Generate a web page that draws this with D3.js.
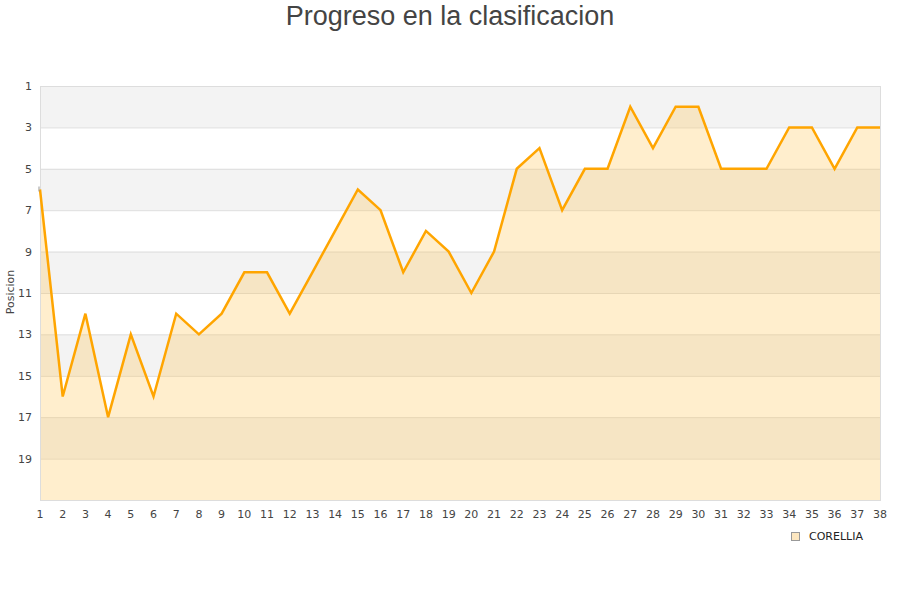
<!DOCTYPE html>
<html><head><meta charset="utf-8">
<script src="https://cdn.jsdelivr.net/npm/d3@7/dist/d3.min.js"></script>
<style>body{margin:0;background:#fff;}svg{display:block;font-family:"DejaVu Sans",sans-serif;}</style>
</head><body>
<script>
const jornadas = d3.range(1, 39);
const posiciones = [6,16,12,17,13,16,12,13,12,10,10,12,10,8,6,7,10,8,9,11,9,5,4,7,5,5,2,4,2,2,5,5,5,3,3,5,3,3];
const yTicks = [1,3,5,7,9,11,13,15,17,19];
const bandas = [[1,3],[5,7],[9,11],[13,15],[17,19]];
const equipo = "CORELLIA";
const titulo = "Progreso en la clasificacion";

const W = 900, H = 600;
const m = {l: 40, r: 20, t: 86, b: 100};
const svg = d3.select("body").append("svg").attr("width", W).attr("height", H);
const x = d3.scaleLinear().domain([1, 38]).range([m.l, W - m.r]);
const y = d3.scaleLinear().domain([1, 21]).range([m.t, H - m.b]);

svg.append("text").attr("x", 450).attr("y", 25).attr("text-anchor", "middle")
  .attr("font-family", "'Liberation Sans', Arial, sans-serif")
  .attr("font-size", 27).attr("fill", "#444").text(titulo);

svg.selectAll("rect.band").data(bandas).enter().append("rect")
  .attr("x", x(1)).attr("width", x(38) - x(1))
  .attr("y", d => y(d[0])).attr("height", d => y(d[1]) - y(d[0]))
  .attr("fill", "#f3f3f3");

svg.selectAll("line.grid").data(yTicks.concat([21])).enter().append("line")
  .attr("x1", x(1)).attr("x2", x(38)).attr("y1", d => y(d) + 0.5).attr("y2", d => y(d) + 0.5)
  .attr("stroke", "#dddddd");

const area = d3.area().x((d, i) => x(jornadas[i])).y0(y(21)).y1(d => y(d));
svg.append("path").datum(posiciones).attr("d", area)
  .attr("fill", "rgba(255,200,90,0.3)");

svg.append("rect").attr("x", x(1) + 0.5).attr("y", y(1) + 0.5)
  .attr("width", x(38) - x(1)).attr("height", y(21) - y(1))
  .attr("fill", "none").attr("stroke", "#dddddd");

const line = d3.line().x((d, i) => x(jornadas[i])).y(d => y(d));
svg.append("path").datum(posiciones).attr("d", line)
  .attr("fill", "none").attr("stroke", "#ffa500").attr("stroke-width", 2.5)
  .attr("stroke-linejoin", "miter");

svg.append("line").attr("x1", x(1) - 1).attr("x2", x(1) - 1)
  .attr("y1", y(posiciones[0]) - 3).attr("y2", y(posiciones[0]) + 2)
  .attr("stroke", "#999").attr("stroke-width", 1);

svg.selectAll("text.yt").data(yTicks).enter().append("text")
  .attr("x", 32).attr("y", d => y(d) + 4).attr("text-anchor", "end")
  .attr("font-size", 11).attr("fill", "#444").text(d => d);

svg.selectAll("text.xt").data(jornadas).enter().append("text")
  .attr("x", d => x(d)).attr("y", 518).attr("text-anchor", "middle")
  .attr("font-size", 11).attr("fill", "#444").text(d => d);

svg.append("text").attr("transform", "translate(14,292) rotate(-90)")
  .attr("text-anchor", "middle").attr("font-size", 11).attr("fill", "#444").text("Posicion");

svg.append("rect").attr("x", 791.5).attr("y", 532.5).attr("width", 8).attr("height", 8)
  .attr("fill", "#fde7c0").attr("stroke", "#999");
svg.append("text").attr("x", 809).attr("y", 540).attr("font-size", 11).attr("fill", "#222").text(equipo);
</script>
</body></html>
